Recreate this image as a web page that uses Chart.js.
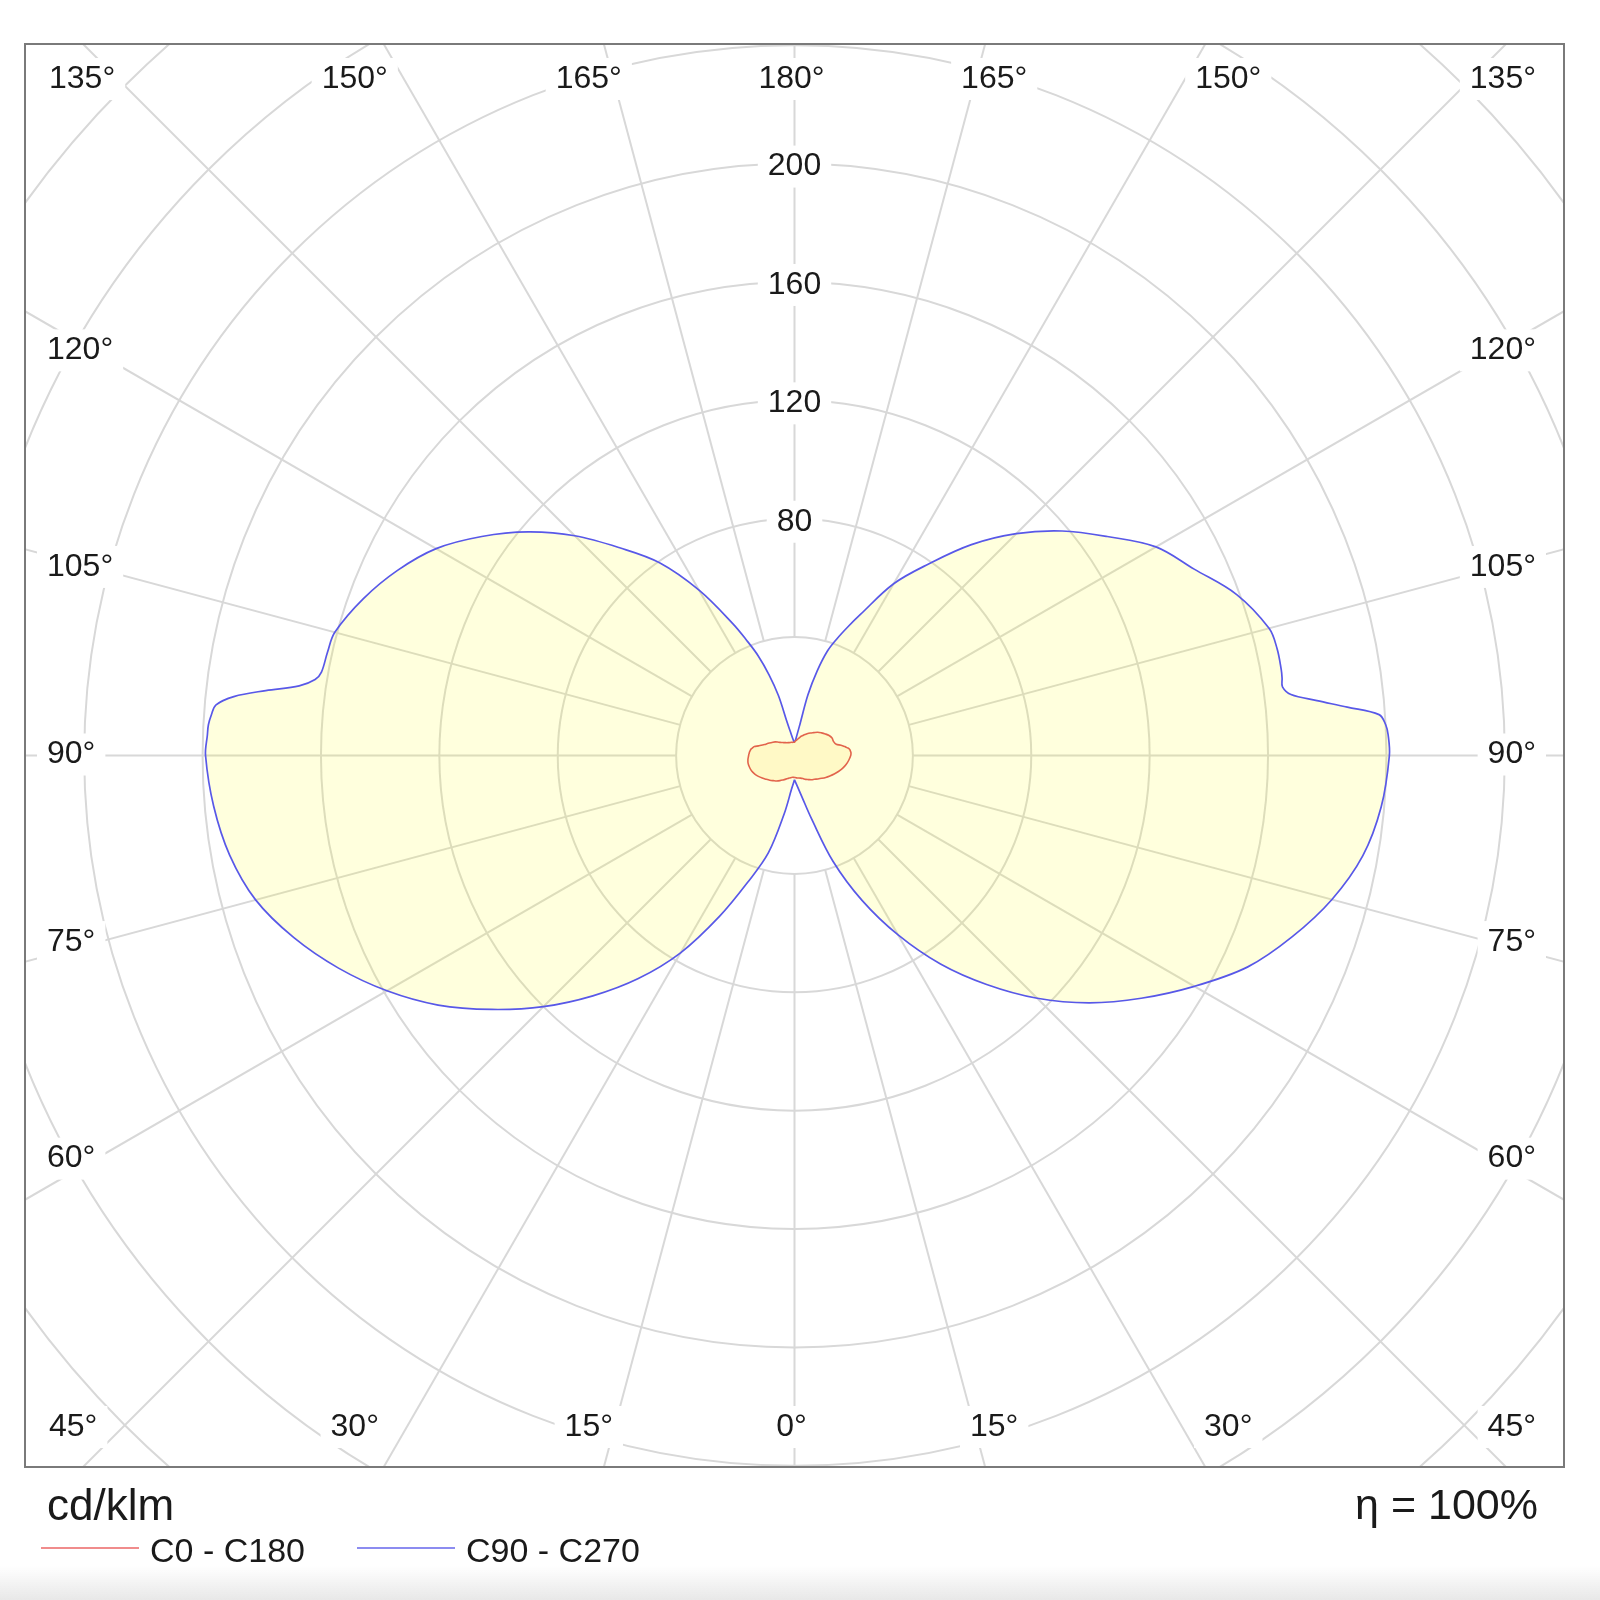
<!DOCTYPE html>
<html>
<head>
<meta charset="utf-8">
<script src="https://cdn.jsdelivr.net/npm/chart.js@4.4.1/dist/chart.umd.min.js"></script>
<style>
  html, body { margin: 0; padding: 0; background: #ffffff; }
  #wrap { position: relative; width: 1600px; height: 1600px; overflow: hidden;
          font-family: "Liberation Sans", Arial, Helvetica, sans-serif; color: #1a1a1a; }
  #c { position: absolute; left: 0; top: 0; }
  .t { position: absolute; white-space: nowrap; line-height: 1; }
  .leg-line { position: absolute; height: 2px; }
  #shade { position: absolute; left: 0; top: 1566px; width: 1600px; height: 34px;
           background: linear-gradient(to bottom, rgba(236,236,236,0), #e8e8e8); }
</style>
</head>
<body>
<div id="wrap">
  <canvas id="c" width="1600" height="1600"></canvas>
  <div class="t" id="unit" style="left:47px; top:1483px; font-size:44px;"></div>
  <div class="t" id="eta" style="right:62px; top:1483px; font-size:43px;"></div>
  <div class="leg-line" id="leg0" style="left:41px; top:1547px; width:98px; background:#f08c8c;"></div>
  <div class="t" id="legt0" style="left:150px; top:1533px; font-size:34px;"></div>
  <div class="leg-line" id="leg1" style="left:357px; top:1547px; width:98px; background:#8c8cf0;"></div>
  <div class="t" id="legt1" style="left:466px; top:1533px; font-size:34px;"></div>
  <div id="shade"></div>
</div>
<script>
// ---- data (cd/klm) ----
const gammaDeg = [0,5,10,15,20,25,30,35,40,45,50,55,60,65,70,75,80,85,90,
                  92,93,94,95,96,97,98,99,100,102.5,105,
                  110,115,120,125,130,135,140,145,150,155,
                  157.5,160,162.5,165,167.5,170,175,180];
// right half, blue
const c90  = [8.2,10.3,14,22,38,54,70,86,101,116,130,143,156,169,179,188,195,199,201,
              200.7,200,198,187.5,177.5,169,166.5,166.8,167,167,166,
              159,149,141,129,118,106,93,79,67,52.5,
              47,42,37,29.5,21,11,5.8,4.2];
// left half, blue
const c270 = [8.2,11.4,20,34,45,60,77,92,106,120,133.5,147,159,170,180,188.5,193.8,197,199,
              198.5,198.3,197.5,196.2,190.5,180,169,164,162.3,161.6,160.8,
              155,148,139.8,129,117.5,105,91.5,79.5,64.5,49,
              42,35.8,28.6,21,11.5,8.3,5.4,4.2];
// right half, red
const c0   = [7.4,7.6,7.7,7.9,8.3,8.9,9.4,10,10.5,11.2,12,12.9,13.8,14.8,15.8,16.8,17.7,18.4,19,
              19.1,19.1,19,18.9,18.8,18.6,18.2,17.7,17.3,16.1,14.6,
              14,14,13.5,12.7,11.9,11.1,10.1,9.3,8.5,7.7,
              7.3,7,6.6,6.2,5.8,5.5,5,4.5];
// left half, red
const c180 = [7.4,7.4,7.6,8,8.5,9.1,9.8,10.5,11.1,11.8,12.5,13.3,14.1,14.8,15.4,15.7,15.9,15.8,15.5,
              15.4,15.3,15.3,15.2,15.1,15,14.9,14.7,14.5,13.9,12.6,
              10.8,9.8,8.8,8,7,6.2,5.7,5.3,5,4.8,
              4.7,4.7,4.6,4.6,4.6,4.5,4.5,4.5];

const ringValues = [40,80,120,160,200,240,280,320];
const ringLabelValues = [80,120,160,200];
const angleStep = 15;
const spokeInner = 40;
const seriesNames = ['C0 - C180','C90 - C270'];
const unitText = 'cd/klm';
const etaText = 'η = 100%';
const xHalf = 260;

document.getElementById('unit').textContent = unitText;
document.getElementById('eta').textContent = etaText;
document.getElementById('legt0').textContent = seriesNames[0];
document.getElementById('legt1').textContent = seriesNames[1];

function closedCurve(right, left) {
  const pts = [];
  for (let i = 0; i < gammaDeg.length; i++) {
    const t = gammaDeg[i] * Math.PI / 180;
    pts.push({x: right[i] * Math.sin(t), y: -right[i] * Math.cos(t)});
  }
  for (let i = gammaDeg.length - 1; i >= 0; i--) {
    const t = gammaDeg[i] * Math.PI / 180;
    pts.push({x: -left[i] * Math.sin(t), y: -left[i] * Math.cos(t)});
  }
  return pts;
}

const pad = {left: 25, top: 44, right: 36, bottom: 133};
const areaW = 1600 - pad.left - pad.right;
const areaH = 1600 - pad.top - pad.bottom;
const yHalf = xHalf * areaH / areaW;

const FONT = '"Liberation Sans", Arial, Helvetica, sans-serif';

function boxedText(ctx, text, x, y, align) {
  ctx.font = '32px ' + FONT;
  const w = ctx.measureText(text).width;
  let x0 = x;
  if (align === 'center') x0 = x - w / 2;
  else if (align === 'right') x0 = x - w;
  ctx.fillStyle = '#ffffff';
  ctx.fillRect(x0 - 10, y - 19, w + 20, 42);
  ctx.fillStyle = '#1a1a1a';
  ctx.textAlign = 'left';
  ctx.textBaseline = 'middle';
  ctx.fillText(text, x0, y + 2);
}

const polarGrid = {
  id: 'polarGrid',
  beforeDatasetsDraw(chart) {
    const {ctx, chartArea: a, scales: {x, y}} = chart;
    const cx = x.getPixelForValue(0), cy = y.getPixelForValue(0);
    const k = x.getPixelForValue(1) - cx;
    ctx.save();
    ctx.beginPath(); ctx.rect(a.left, a.top, a.width, a.height); ctx.clip();
    ctx.strokeStyle = '#d8d8d8';
    ctx.lineWidth = 2;
    for (const r of ringValues) {
      ctx.beginPath(); ctx.arc(cx, cy, r * k, 0, Math.PI * 2); ctx.stroke();
    }
    for (let g = 0; g < 360; g += angleStep) {
      const t = g * Math.PI / 180;
      const dx = Math.sin(t), dy = Math.cos(t);
      ctx.beginPath();
      ctx.moveTo(cx + dx * spokeInner * k, cy + dy * spokeInner * k);
      ctx.lineTo(cx + dx * 3000, cy + dy * 3000);
      ctx.stroke();
    }
    ctx.restore();
  },
  afterDatasetsDraw(chart) {
    const {ctx, chartArea: a, scales: {x, y}} = chart;
    const cx = x.getPixelForValue(0), cy = y.getPixelForValue(0);
    const k = x.getPixelForValue(1) - cx;
    ctx.save();
    for (const r of ringLabelValues) {
      boxedText(ctx, String(r), cx, cy - r * k + 1, 'center');
    }
    const reachTop = (cy - a.top) + 45;
    const reachSide = 700;
    for (const side of [-1, 1]) {
      for (let g = 0; g <= 180; g += angleStep) {
        if (side === -1 && (g === 0 || g === 180)) continue;
        const txt = g + '°';
        const sideAlign = side < 0 ? 'left' : 'right';
        const sideX = side < 0 ? a.left + 22 : a.right - 28;
        if (g <= 45 || g >= 135) {
          const dev = g <= 45 ? g : 180 - g;
          const ly = g <= 45 ? a.bottom - 42 : a.top + 33;
          if (dev === 45) {
            boxedText(ctx, txt, side < 0 ? a.left + 24 : a.right - 28, ly, sideAlign);
          } else {
            const lx = cx + side * reachTop * Math.tan(dev * Math.PI / 180) - 3;
            boxedText(ctx, txt, lx, ly, 'center');
          }
        } else {
          const ly = cy - 3 + reachSide * Math.tan((90 - g) * Math.PI / 180);
          boxedText(ctx, txt, sideX, ly, sideAlign);
        }
      }
    }
    ctx.restore();
  },
  afterDraw(chart) {
    const {ctx, chartArea: a} = chart;
    ctx.save();
    ctx.strokeStyle = '#7a7a7a';
    ctx.lineWidth = 2;
    ctx.strokeRect(a.left, a.top, a.width, a.height);
    ctx.restore();
  }
};

new Chart(document.getElementById('c'), {
  type: 'scatter',
  data: {
    datasets: [
      {
        label: seriesNames[0],
        data: closedCurve(c0, c180),
        showLine: true,
        borderColor: 'rgb(226,100,76)',
        borderWidth: 1.6,
        backgroundColor: 'rgb(255,249,198)',
        fill: 'shape',
        pointRadius: 0,
        tension: 0.35
      },
      {
        label: seriesNames[1],
        data: closedCurve(c90, c270),
        showLine: true,
        borderColor: 'rgb(88,88,232)',
        borderWidth: 1.7,
        backgroundColor: 'rgba(255,255,0,0.135)',
        fill: 'shape',
        pointRadius: 0,
        tension: 0.35
      }
    ]
  },
  options: {
    responsive: false,
    maintainAspectRatio: false,
    animation: false,
    devicePixelRatio: 1,
    events: [],
    layout: {padding: pad},
    scales: {
      x: {type: 'linear', min: -xHalf, max: xHalf, display: false},
      y: {type: 'linear', min: -yHalf, max: yHalf, display: false}
    },
    plugins: {legend: {display: false}, tooltip: {enabled: false}}
  },
  plugins: [polarGrid]
});
</script>
</body>
</html>
